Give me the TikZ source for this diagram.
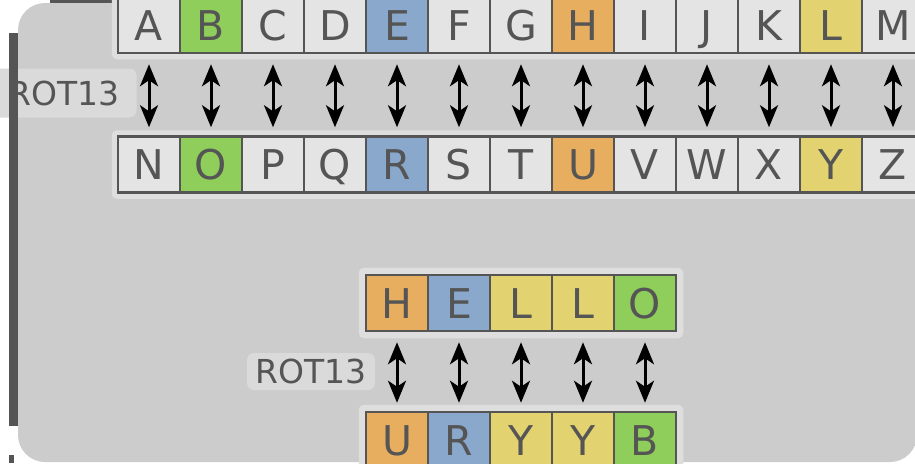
\documentclass[tikz,border=0pt]{standalone}
\usepackage{fontspec}
\setmainfont{DejaVu Sans}
\usetikzlibrary{arrows.meta,backgrounds}
\definecolor{panel}{HTML}{CCCCCC}
\definecolor{darkbar}{HTML}{555555}
\definecolor{halo}{HTML}{DEDEDE}
\definecolor{cellfill}{HTML}{E4E4E4}
\definecolor{cellline}{HTML}{555555}
\definecolor{lettercol}{HTML}{555555}
\definecolor{cgreen}{HTML}{8FCE5A}
\definecolor{cblue}{HTML}{8AA8CC}
\definecolor{corange}{HTML}{E8AE60}
\definecolor{cyellow}{HTML}{E2D270}
\definecolor{labelfill}{HTML}{DADADA}
\begin{document}
\begin{tikzpicture}[x=1pt,y=1pt,
  cell/.style={draw=cellline, line width=2.5pt, fill=cellfill, minimum width=62pt, minimum height=56pt,
    inner sep=0pt, text height=30pt, text depth=0pt, text=lettercol, font=\fontsize{41}{41}\selectfont},
  arr/.style={{Stealth[length=22pt,width=18pt,inset=6pt]}-{Stealth[length=22pt,width=18pt,inset=6pt]}, line width=3pt,
    shorten <=10pt, shorten >=8pt, draw=black},
  lbl/.style={fill=labelfill, rounded corners=7pt, inner sep=0pt, text=lettercol,
    text height=24pt, text depth=0pt, font=\fontsize{33}{33}\selectfont},
  halofill/.style={fill=halo, rounded corners=5pt}]
\useasboundingbox (0,0) rectangle (915,-463);
% top alphabet row
\foreach \L/\c [count=\i from 0] in {A/cellfill,B/cgreen,C/cellfill,D/cellfill,E/cblue,F/cellfill,G/cellfill,H/corange,I/cellfill,J/cellfill,K/cellfill,L/cyellow,M/cellfill}
  \node[cell, fill=\c] (a\i) at (149+62*\i,-25) {\L};
\foreach \L/\c [count=\i from 0] in {N/cellfill,O/cgreen,P/cellfill,Q/cellfill,R/cblue,S/cellfill,T/cellfill,U/corange,V/cellfill,W/cellfill,X/cellfill,Y/cyellow,Z/cellfill}
  \node[cell, fill=\c] (b\i) at (149+62*\i,-164.5) {\L};
\foreach \i in {0,...,12} \draw[arr] (a\i) -- (b\i);
% HELLO rows
\foreach \L/\c [count=\i from 0] in {H/corange,E/cblue,L/cyellow,L/cyellow,O/cgreen}
  \node[cell, fill=\c] (h\i) at (397+62*\i,-303) {\L};
\foreach \L/\c [count=\i from 0] in {U/corange,R/cblue,Y/cyellow,Y/cyellow,B/cgreen}
  \node[cell, fill=\c] (u\i) at (397+62*\i,-440) {\L};
\foreach \i in {0,...,4} \draw[arr] (h\i) -- (u\i);
% labels
\node[lbl, minimum width=145pt, minimum height=49pt] (r1) at (64,-93) {ROT13};
\node[lbl, minimum width=128pt, minimum height=37pt] (r2) at (311,-371.5) {ROT13};
% background
\begin{scope}[on background layer]
  \fill[white] (0,0) rectangle (915,-463);
  \fill[darkbar] (50,0) rectangle (905,-4);
  \fill[panel, rounded corners=27pt] (18,-3) rectangle (917,-462);
  \fill[halofill] ([shift={(-5,5)}]a0.north west) rectangle ([shift={(5,-5)}]a12.south east);
  \fill[halofill] ([shift={(-5,5)}]b0.north west) rectangle ([shift={(5,-5)}]b12.south east);
  \fill[halofill] ([shift={(-6,6)}]h0.north west) rectangle ([shift={(6,-6)}]h4.south east);
  \fill[halofill] ([shift={(-6,6)}]u0.north west) rectangle ([shift={(6,-6)}]u4.south east);
\end{scope}
% dark bar on the left, over the label
\fill[darkbar] (9,-33) rectangle (18,-426);
\fill[darkbar] (9,-455) rectangle (14,-463);
\end{tikzpicture}
\end{document}
